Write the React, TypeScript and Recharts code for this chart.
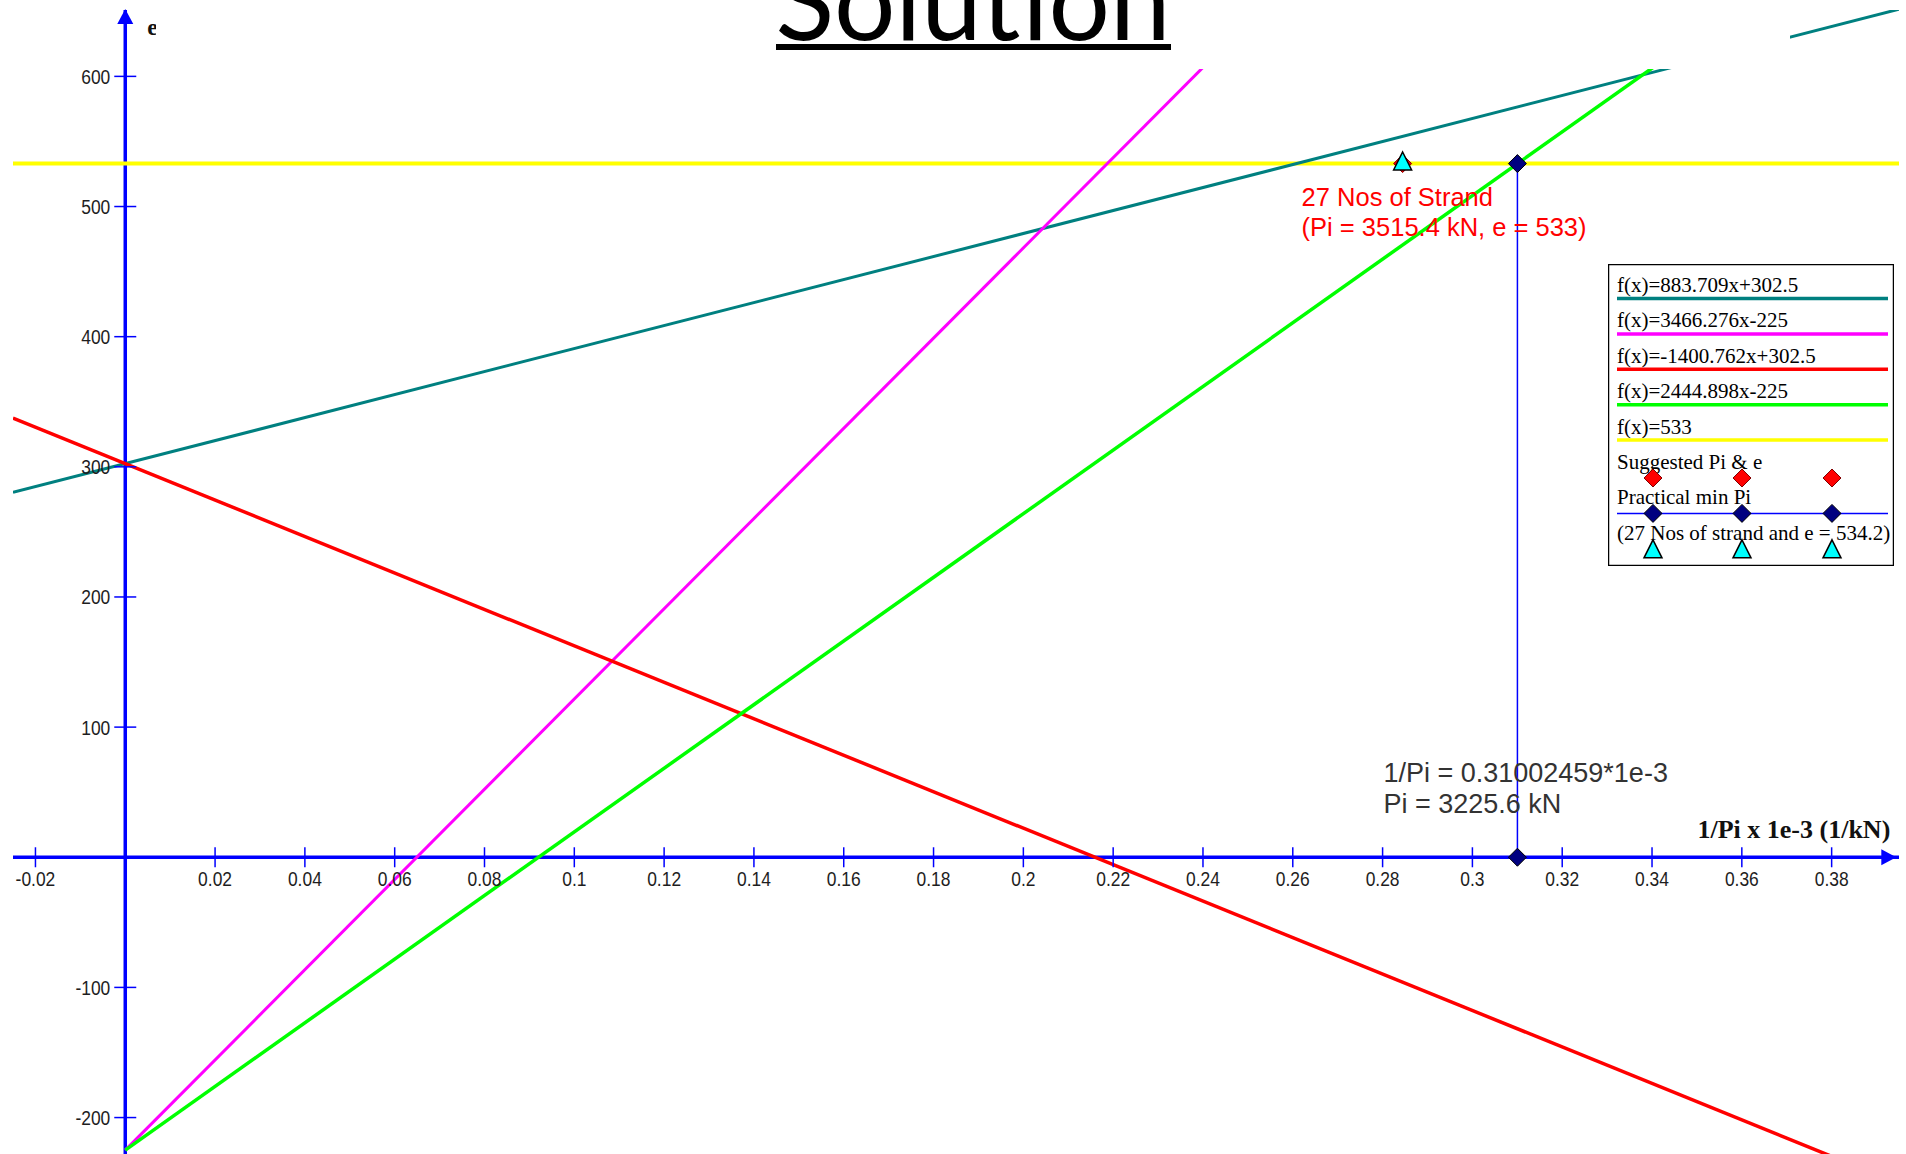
import React from "react";
import {
  ComposedChart,
  Legend,
  Line,
  ReferenceDot,
  ReferenceLine,
  Scatter,
  XAxis,
  YAxis,
} from "recharts";

// Straight design lines, two end points each (equations in the legend box).
const tealX = [-0.025, 0.395];
const tealY = [280.4, 651.6];
const magentaX = [0, 0.26];
const magentaY = [-225, 676.2];
const redX = [-0.025, 0.385];
const redY = [337.5, -236.8];
const greenX = [0, 0.37];
const greenY = [-225, 679.6];
const yellowX = [-0.025, 0.395];
const yellowY = [533, 533];

const minPiX = 0.31002459;
const strandX = 0.28446;

const suggested = [{ x: strandX, y: 533 }];
const practical = [
  { x: minPiX, y: 533 },
  { x: minPiX, y: 0 },
];
const strands = [{ x: strandX, y: 534.2 }];

const xTicks = [
  -0.02, 0.02, 0.04, 0.06, 0.08, 0.1, 0.12, 0.14, 0.16, 0.18, 0.2, 0.22, 0.24, 0.26, 0.28, 0.3,
  0.32, 0.34, 0.36, 0.38,
];
const yTicks = [600, 500, 400, 300, 200, 100, -100, -200];

const legendLines = [
  "f(x)=883.709x+302.5",
  "f(x)=3466.276x-225",
  "f(x)=-1400.762x+302.5",
  "f(x)=2444.898x-225",
  "f(x)=533",
];
const legendMarkers = ["Suggested Pi & e", "Practical min Pi", "(27 Nos of strand and e = 534.2)"];

const COLOR = {
  teal: "#008080",
  magenta: "#ff00ff",
  red: "#ff0000",
  green: "#00ff00",
  yellow: "#ffff00",
  axis: "#0000ff",
  navy: "#000080",
  cyan: "#00ffff",
  label: "#1e1e1e",
  note: "#333333",
} as const;

const LINE_COLORS = [COLOR.teal, COLOR.magenta, COLOR.red, COLOR.green, COLOR.yellow];

const SANS = "'Liberation Sans', Arial, sans-serif";
const SERIF = "'Liberation Serif', 'Times New Roman', serif";

const pts = (xs: number[], ys: number[]) => xs.map((x, i) => ({ x, y: ys[i] }));

function diamond(cx: number, cy: number, r: number) {
  return `${cx},${cy - r} ${cx + r},${cy} ${cx},${cy + r} ${cx - r},${cy}`;
}
function triangle(cx: number, cy: number, r: number) {
  return `${cx},${cy - r} ${cx + r},${cy + r} ${cx - r},${cy + r}`;
}

const RedDiamond = (p: any) => (
  <polygon points={diamond(p.cx, p.cy, 9)} fill={COLOR.red} stroke="#800000" strokeWidth={1} />
);
const NavyDiamond = (p: any) => (
  <polygon points={diamond(p.cx, p.cy, 9)} fill={COLOR.navy} stroke="#000" strokeWidth={1} />
);
const CyanTriangle = (p: any) => (
  <polygon points={triangle(p.cx, p.cy - 1, 9)} fill={COLOR.cyan} stroke="#000" strokeWidth={1.5} />
);

// tick text is a tall, narrow face in the original: squash Liberation Sans horizontally
const TickText = ({ x, y, anchor, children }: any) => (
  <text
    transform={`translate(${x},${y}) scale(0.83,1)`}
    textAnchor={anchor}
    fontFamily={SANS}
    fontSize={21}
    fill={COLOR.label}
  >
    {children}
  </text>
);

const XTick = ({ cx, cy, label }: any) => (
  <g>
    <line x1={cx} x2={cx} y1={cy - 10} y2={cy + 10} stroke={COLOR.axis} strokeWidth={1.5} />
    <TickText x={cx} y={cy + 29} anchor="middle">
      {label}
    </TickText>
  </g>
);

const YTick = ({ cx, cy, label }: any) => (
  <g>
    <line x1={cx - 11} x2={cx + 11} y1={cy} y2={cy} stroke={COLOR.axis} strokeWidth={1.5} />
    <TickText x={cx - 15} y={cy + 7.5} anchor="end">
      {label}
    </TickText>
  </g>
);

const ArrowUp = ({ cx, cy }: any) => (
  <g>
    <polygon points={`${cx},${cy - 1} ${cx + 8},${cy + 14} ${cx - 8},${cy + 14}`} fill={COLOR.axis} />
    <text x={cx + 22} y={cy + 25} fontFamily={SERIF} fontWeight="bold" fontSize={24} fill="#111">
      e
    </text>
  </g>
);

const ArrowRight = ({ cx, cy }: any) => (
  <g>
    <polygon points={`${cx},${cy} ${cx - 15},${cy - 8} ${cx - 15},${cy + 8}`} fill={COLOR.axis} />
    <text x={cx - 6} y={cy - 19} textAnchor="end" fontFamily={SERIF} fontWeight="bold" fontSize={26} fill="#111">
      1/Pi x 1e-3 (1/kN)
    </text>
  </g>
);

const StrandNote = ({ cx, cy }: any) => (
  <g fontFamily={SANS} fontSize={25.5} fill={COLOR.red}>
    <text x={cx - 101} y={cy + 42}>27 Nos of Strand</text>
    <text x={cx - 101} y={cy + 72}>(Pi = 3515.4 kN, e = 533)</text>
  </g>
);

const MinPiNote = ({ cx, cy }: any) => (
  <g fontFamily={SANS} fontSize={27} fill={COLOR.note}>
    <text x={cx - 134} y={cy - 75}>1/Pi = 0.31002459*1e-3</text>
    <text x={cx - 134} y={cy - 44}>Pi = 3225.6 kN</text>
  </g>
);

function LegendBox() {
  const markerX = [45, 134, 224];
  const row = 35.4;
  return (
    <svg width={286} height={302} style={{ display: "block" }}>
      <rect x={0.5} y={0.5} width={285} height={301} fill="#fff" stroke="#000" strokeWidth={1.5} />
      <g fontFamily={SERIF} fontSize={21} fill="#000">
        {legendLines.map((t, i) => (
          <g key={t}>
            <text x={9} y={28 + i * row}>{t}</text>
            <line x1={9} x2={280} y1={34.5 + i * row} y2={34.5 + i * row} stroke={LINE_COLORS[i]} strokeWidth={3.5} />
          </g>
        ))}
        {legendMarkers.map((t, j) => {
          const base = 28 + (5 + j) * row;
          return (
            <g key={t}>
              <text x={9} y={base}>{t}</text>
              {j === 1 && <line x1={9} x2={280} y1={base + 9} y2={base + 9} stroke={COLOR.axis} strokeWidth={1.5} />}
              {markerX.map((mx) =>
                j === 0 ? (
                  <RedDiamond key={mx} cx={mx} cy={base + 9} />
                ) : j === 1 ? (
                  <NavyDiamond key={mx} cx={mx} cy={base + 9} />
                ) : (
                  <CyanTriangle key={mx} cx={mx} cy={base + 10} />
                )
              )}
            </g>
          );
        })}
      </g>
    </svg>
  );
}

export default function App() {
  return (
    <div style={{ position: "absolute", left: 0, top: 0, width: 1906, height: 1154, background: "#fff" }}>
      <ComposedChart width={1906} height={1154} margin={{ top: 10, right: 7, bottom: 0, left: 13 }}>
        <XAxis type="number" dataKey="x" domain={[-0.025, 0.395]} allowDataOverflow hide />
        <YAxis type="number" dataKey="y" domain={[-228, 651]} allowDataOverflow hide />
        <Legend
          layout="vertical"
          align="center"
          verticalAlign="middle"
          content={<LegendBox />}
          wrapperStyle={{ left: 1608, top: 264, width: 286, height: 302 }}
        />

        <ReferenceLine y={0} stroke={COLOR.axis} strokeWidth={3.5} />
        <ReferenceLine x={0} stroke={COLOR.axis} strokeWidth={3.5} />
        <ReferenceLine
          segment={[
            { x: minPiX, y: 0 },
            { x: minPiX, y: 533 },
          ]}
          stroke={COLOR.axis}
          strokeWidth={1.5}
        />

        <Line data={pts(yellowX, yellowY)} dataKey="y" type="linear" stroke={COLOR.yellow} strokeWidth={4} dot={false} activeDot={false} isAnimationActive={false} />
        <Line data={pts(tealX, tealY)} dataKey="y" type="linear" stroke={COLOR.teal} strokeWidth={3} dot={false} activeDot={false} isAnimationActive={false} />
        <Line data={pts(magentaX, magentaY)} dataKey="y" type="linear" stroke={COLOR.magenta} strokeWidth={3} dot={false} activeDot={false} isAnimationActive={false} />
        <Line data={pts(redX, redY)} dataKey="y" type="linear" stroke={COLOR.red} strokeWidth={3.5} dot={false} activeDot={false} isAnimationActive={false} />
        <Line data={pts(greenX, greenY)} dataKey="y" type="linear" stroke={COLOR.green} strokeWidth={3.5} dot={false} activeDot={false} isAnimationActive={false} />

        {xTicks.map((t) => (
          <ReferenceDot key={`x${t}`} x={t} y={0} ifOverflow="visible" shape={(p: any) => <XTick {...p} label={String(t)} />} />
        ))}
        {yTicks.map((t) => (
          <ReferenceDot key={`y${t}`} x={0} y={t} ifOverflow="visible" shape={(p: any) => <YTick {...p} label={String(t)} />} />
        ))}
        <ReferenceDot x={0} y={651} ifOverflow="visible" shape={(p: any) => <ArrowUp {...p} />} />
        <ReferenceDot x={0.3944} y={0} ifOverflow="visible" shape={(p: any) => <ArrowRight {...p} />} />
        <ReferenceDot x={strandX} y={533} ifOverflow="visible" shape={(p: any) => <StrandNote {...p} />} />
        <ReferenceDot x={minPiX} y={0} ifOverflow="visible" shape={(p: any) => <MinPiNote {...p} />} />

        <Scatter data={suggested} dataKey="y" shape={RedDiamond} isAnimationActive={false} />
        <Scatter data={practical} dataKey="y" shape={NavyDiamond} isAnimationActive={false} />
        <Scatter data={strands} dataKey="y" shape={CyanTriangle} isAnimationActive={false} />
      </ComposedChart>

      {/* slide title block sitting over the top of the chart */}
      <div style={{ position: "absolute", left: 156, top: 0, width: 1634, height: 69, background: "#fff", overflow: "hidden" }}>
        <svg width={1634} height={69}>
          <text x={817} y={40} textAnchor="middle" fontFamily="Lato, 'Open Sans', sans-serif" fontSize={110} textLength={395} lengthAdjust="spacingAndGlyphs" fill="#000">
            Solution
          </text>
          <rect x={620} y={44} width={395} height={6} fill="#000" />
        </svg>
      </div>
    </div>
  );
}
